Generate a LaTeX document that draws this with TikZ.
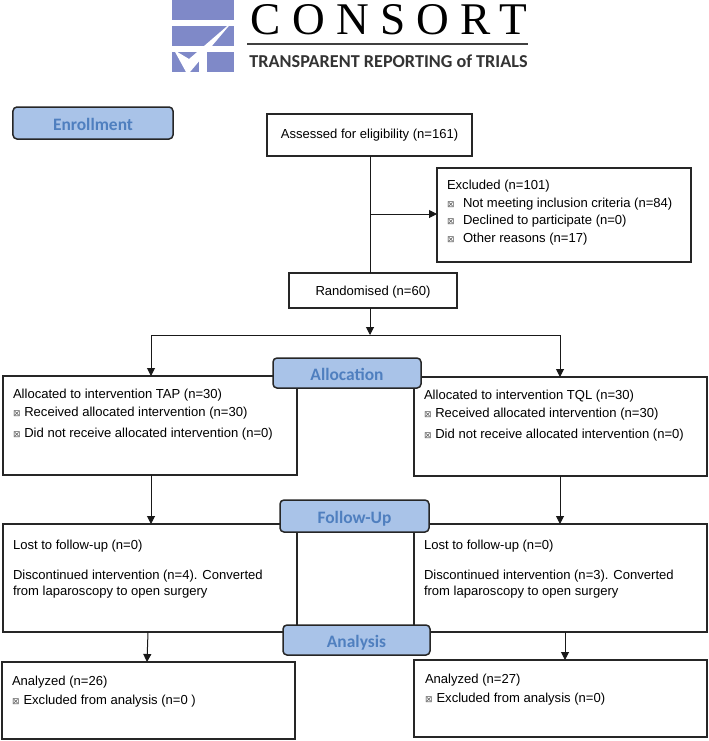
\documentclass[tikz,border=0pt]{standalone}
\usepackage{fontspec}
\setmainfont{Liberation Sans}
\newfontfamily\tagfont{Carlito}
\newfontfamily\logofont[LetterSpace=25]{Liberation Serif}
\newfontfamily\bulfont{DejaVu Sans}
\usetikzlibrary{positioning,shapes,arrows.meta}
\definecolor{tagfill}{HTML}{A9C3E8}
\definecolor{tagtext}{HTML}{4F7FBF}
\definecolor{logoblue}{HTML}{7F89C8}
\newcommand{\bul}{{\bulfont\fontsize{9}{9}\selectfont\textcolor{black!65}{⊠}}}
% sets a text lower in its node: extra height above it, twice the drop
\newcommand{\dropby}[2]{\raisebox{0pt}[\dimexpr\height+#1\relax]{#2}}
\tikzset{
  every node/.style={inner sep=0pt,outer sep=0pt},
  boxnode/.style={draw=black!85,line width=1.5bp,fill=white},
  tagnode/.style={draw=black!85,line width=1.5bp,fill=tagfill,rounded corners=4bp,text=tagtext,
    font=\tagfont\bfseries\fontsize{17.5}{18}\selectfont},
  txt/.style={anchor=north west,align=left,font=\fontsize{13.1}{14}\selectfont},
  link/.style={black!90,line width=1bp},
  arrowlink/.style={link,-{Triangle[length=8bp,width=8bp]}}
}
\begin{document}
\begin{tikzpicture}[x=1bp,y=-1bp]
\useasboundingbox (0,0) rectangle (709,741);
% logo
\fill [logoblue] (172,0) rectangle (234,20.5);
\fill [logoblue] (172,26) rectangle (234,46);
\fill [logoblue] (172,52) rectangle (199,72);
\fill [logoblue] (207,52) rectangle (234,72);
\fill [white] (233,21) -- (189,59) -- (174,50) -- (186,72) -- (190,72) -- cycle;
\node (consort) at (389,19.5) {\logofont\fontsize{45.5}{48}\selectfont CONSORT};
\node (tagline) at (388.5,61.5) {\tagfont\bfseries\fontsize{18.25}{22}\selectfont\textcolor{black!80}{TRANSPARENT REPORTING of TRIALS}};
\coordinate (ruleL) at (247,44);
\coordinate (ruleR) at (528,44);
\draw [black!75,line width=1.2bp] (ruleL) -- (ruleR);
% boxes
\node [boxnode,minimum width=205bp,minimum height=42bp] (assessed) at (369.5,135) {\fontsize{13.1}{14}\selectfont Assessed for eligibility (n=161)};
\node [boxnode,minimum width=254bp,minimum height=94bp] (excluded) at (564,215) {};
\node [boxnode,minimum width=168bp,minimum height=35bp] (randomised) at (373,290.5) {\fontsize{13.1}{14}\selectfont\dropby{4bp}{Randomised (n=60)}};
\node [boxnode,minimum width=294bp,minimum height=99bp] (tap) at (150,425.5) {};
\node [boxnode,minimum width=293bp,minimum height=99bp] (tql) at (560.5,426.5) {};
\node [boxnode,minimum width=294bp,minimum height=108bp] (lostL) at (150,578) {};
\node [boxnode,minimum width=293bp,minimum height=108bp] (lostR) at (560.5,578) {};
\node [boxnode,minimum width=293bp,minimum height=77bp] (analyzedL) at (148.5,700.5) {};
\node [boxnode,minimum width=293bp,minimum height=77bp] (analyzedR) at (560.5,698.5) {};
% texts
\node [txt] (excludedText) at (447,180.5) {Excluded (n=101)\\[3.5bp]
  \bul\hspace{8.5bp}Not meeting inclusion criteria (n=84)\\[3.5bp]
  \bul\hspace{8.5bp}Declined to participate (n=0)\\[3.5bp]
  \bul\hspace{8.5bp}Other reasons (n=17)};
\node [txt] (tapText) at (13,389.5) {Allocated to intervention TAP (n=30)\\[4bp]
  \bul\hspace{3.8bp}Received allocated intervention (n=30)\\[7bp]
  \bul\hspace{3.8bp}Did not receive allocated intervention (n=0)};
\node [txt] (tqlText) at (424,390) {Allocated to intervention TQL (n=30)\\[4bp]
  \bul\hspace{3.8bp}Received allocated intervention (n=30)\\[7bp]
  \bul\hspace{3.8bp}Did not receive allocated intervention (n=0)};
\node [txt] (lostLText) at (13,540) {Lost to follow-up (n=0)\\[16.5bp]
  Discontinued intervention (n=4). Converted\\[2bp]
  from laparoscopy to open surgery};
\node [txt] (lostRText) at (424,540) {Lost to follow-up (n=0)\\[16.5bp]
  Discontinued intervention (n=3). Converted\\[2bp]
  from laparoscopy to open surgery};
\node [txt] (analyzedLText) at (12,676.5) {Analyzed (n=26)\\[5bp]
  \bul\hspace{4bp}Excluded from analysis (n=0 )};
\node [txt] (analyzedRText) at (425,674.5) {Analyzed (n=27)\\[5bp]
  \bul\hspace{4bp}Excluded from analysis (n=0)};
% connectors
\coordinate (branchEx) at (370,214);
\coordinate (split) at (370,335);
\coordinate (splitL) at (151,335);
\coordinate (splitR) at (560,335);
\draw [link] (assessed.south -| branchEx) -- (randomised.north -| branchEx);
\draw [arrowlink] (branchEx) -- (excluded.west |- branchEx);
\draw [arrowlink] (randomised.south -| split) -- (split);
\draw [link] (splitL) -- (splitR);
\draw [arrowlink] (splitL) -- (tap.north -| splitL);
\draw [arrowlink] (splitR) -- (tql.north -| splitR);
\coordinate (downL) at (151,475);
\coordinate (downR) at (560,476);
\draw [arrowlink] (tap.south -| downL) -- (lostL.north -| downL);
\draw [arrowlink] (tql.south -| downR) -- (lostR.north -| downR);
\coordinate (outL) at (148,632);
\coordinate (inL) at (147,662);
\coordinate (outR) at (565,632);
\draw [arrowlink] (outL) -- (inL);
\draw [arrowlink] (outR) -- (analyzedR.north -| outR);
% section tags
\node [tagnode,minimum width=160bp,minimum height=32bp] (enrollment) at (93,123) {\dropby{2bp}{Enrollment}};
\node [tagnode,minimum width=148bp,minimum height=30bp] (allocation) at (347,373) {\dropby{2bp}{Allocation}};
\node [tagnode,minimum width=149bp,minimum height=32bp] (followup) at (354.5,516) {\dropby{5bp}{Follow-Up}};
\node [tagnode,minimum width=147bp,minimum height=30bp] (analysis) at (356.5,640) {\dropby{6bp}{Analysis}};
\end{tikzpicture}
\end{document}
